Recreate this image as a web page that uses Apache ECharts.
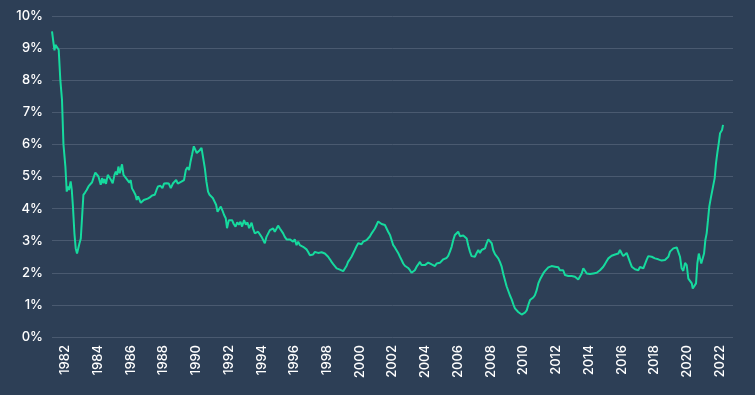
<!DOCTYPE html>
<html>
<head>
<meta charset="utf-8">
<script src="https://cdn.jsdelivr.net/npm/echarts@6/dist/echarts.min.js"></script>
<style>
html,body{margin:0;padding:0;background:#2d3f56;}
#chart{width:755px;height:395px;}
</style>
</head>
<body>
<div id="chart"></div>
<script>
const years = [
1981.18,1981.27,1981.33,1981.39,1981.49,1981.59,1981.69,1981.79,1981.88,1981.94,
1982.00,1982.08,1982.16,1982.22,1982.32,1982.39,1982.46,1982.55,1982.63,1982.71,1982.77,1982.86,1982.94,
1983.02,1983.10,1983.20,1983.30,1983.41,1983.53,1983.63,1983.73,1983.83,1983.93,
1984.02,1984.08,1984.16,1984.24,1984.32,1984.39,1984.48,1984.59,1984.69,1984.79,1984.89,
1985.00,1985.08,1985.16,1985.24,1985.32,1985.40,1985.46,1985.55,1985.65,1985.75,1985.83,1985.91,1985.99,
1986.07,1986.18,1986.28,1986.36,1986.44,1986.53,1986.61,1986.69,1986.79,1986.89,
1987.03,1987.16,1987.30,1987.46,1987.57,1987.66,1987.81,1987.93,
1988.03,1988.18,1988.32,1988.44,1988.58,1988.69,1988.77,1988.87,1988.97,
1989.09,1989.25,1989.36,1989.46,1989.56,1989.65,1989.74,1989.85,1989.93,
1990.03,1990.13,1990.21,1990.32,1990.42,1990.52,1990.62,1990.72,1990.81,1990.90,
1991.01,1991.11,1991.21,1991.30,1991.39,1991.50,1991.60,1991.70,1991.80,1991.88,1991.99,
1992.09,1992.19,1992.29,1992.40,1992.50,1992.60,1992.70,1992.80,1992.92,
1993.03,1993.13,1993.23,1993.38,1993.47,1993.58,1993.68,1993.78,1993.88,1993.99,
1994.09,1994.19,1994.29,1994.39,1994.50,1994.60,1994.70,1994.80,1994.91,
1995.00,1995.11,1995.21,1995.31,1995.41,1995.52,1995.61,1995.72,1995.82,1995.92,
1996.02,1996.13,1996.23,1996.33,1996.43,1996.53,1996.64,1996.74,1996.84,1996.94,
1997.05,1997.14,1997.25,1997.35,1997.45,1997.55,1997.66,1997.76,1997.86,1997.96,
1998.06,1998.17,1998.27,1998.37,1998.47,1998.58,1998.67,1998.78,1998.88,1998.98,
1999.08,1999.19,1999.28,1999.39,1999.49,1999.59,1999.69,1999.80,1999.90,
2000.00,2000.10,2000.20,2000.31,2000.41,2000.51,2000.61,2000.72,2000.81,2000.92,
2001.02,2001.12,2001.22,2001.33,2001.43,2001.53,2001.63,2001.73,2001.84,2001.94,
2002.04,2002.14,2002.25,2002.34,2002.45,2002.55,2002.65,2002.75,2002.86,2002.95,
2003.06,2003.16,2003.26,2003.36,2003.47,2003.57,2003.67,2003.77,2003.87,2003.98,
2004.08,2004.18,2004.28,2004.39,2004.48,2004.59,2004.69,2004.79,2004.89,
2005.00,2005.10,2005.20,2005.30,2005.40,2005.50,2005.61,2005.71,2005.81,2005.91,
2006.01,2006.12,2006.22,2006.32,2006.42,2006.53,2006.62,2006.73,2006.83,2006.93,
2007.03,2007.14,2007.24,2007.34,2007.44,2007.54,2007.65,2007.75,2007.85,2007.95,
2008.06,2008.15,2008.26,2008.36,2008.46,2008.56,2008.67,2008.76,2008.87,2008.97,
2009.07,2009.17,2009.28,2009.38,2009.48,2009.58,2009.68,2009.79,2009.89,2009.99,
2010.09,2010.20,2010.29,2010.40,2010.50,2010.60,2010.70,2010.81,2010.91,
2011.01,2011.11,2011.21,2011.31,2011.42,2011.52,2011.62,2011.72,2011.82,2011.93,
2012.03,2012.13,2012.23,2012.34,2012.43,2012.54,2012.64,2012.74,2012.84,2012.95,
2013.05,2013.15,2013.25,2013.35,2013.46,2013.56,2013.66,2013.76,2013.87,2013.96,
2014.07,2014.17,2014.27,2014.37,2014.48,2014.57,2014.68,2014.78,2014.88,2014.98,
2015.09,2015.19,2015.29,2015.39,2015.49,2015.60,2015.70,2015.80,2015.90,
2016.01,2016.10,2016.21,2016.31,2016.41,2016.51,2016.62,2016.71,2016.82,2016.92,
2017.02,2017.12,2017.23,2017.33,2017.43,2017.53,2017.63,2017.74,2017.84,2017.94,
2018.04,2018.15,2018.24,2018.35,2018.45,2018.55,2018.65,2018.76,2018.86,2018.96,
2019.06,2019.16,2019.26,2019.37,2019.47,2019.57,2019.67,2019.77,2019.88,2019.98,
2020.08,2020.18,2020.29,2020.35,2020.45,2020.55,2020.63,2020.72,2020.79,2020.87,2020.96,
2021.04,2021.12,2021.20,2021.28,2021.36,2021.45,2021.53,2021.61,2021.69,2021.77,2021.85,2021.94,
2022.02,2022.08,2022.14,2022.20
];
const values = [
9.52,9.57,8.93,9.10,9.07,8.95,8.00,7.40,6.00,6.00,
5.30,4.53,4.69,4.58,4.85,4.58,4.06,3.23,2.76,2.60,2.55,2.92,3.07,
3.75,4.43,4.50,4.58,4.69,4.72,4.82,4.98,5.12,5.08,
5.00,5.05,4.74,4.95,4.79,4.92,4.77,5.05,5.00,4.89,4.79,
5.05,5.15,5.05,5.31,5.10,5.26,5.38,5.05,5.02,4.92,4.98,4.81,4.89,
4.63,4.53,4.43,4.27,4.38,4.38,4.18,4.16,4.27,4.30,
4.31,4.35,4.41,4.43,4.58,4.69,4.71,4.64,
4.78,4.79,4.78,4.64,4.79,4.74,4.89,4.78,4.74,
4.84,4.89,5.20,5.29,5.20,5.47,5.68,5.94,5.91,
5.73,5.68,5.82,5.89,5.58,5.27,4.84,4.53,4.43,4.46,
4.33,4.38,4.12,3.90,3.98,4.06,3.94,3.80,3.70,3.39,3.64,
3.59,3.64,3.52,3.44,3.57,3.50,3.59,3.44,3.64,
3.50,3.57,3.39,3.56,3.38,3.23,3.20,3.28,3.23,3.12,
3.12,2.92,3.12,3.18,3.33,3.35,3.38,3.28,3.38,
3.47,3.38,3.33,3.23,3.12,3.04,3.07,3.04,3.05,2.97,
3.04,2.86,2.97,2.86,2.89,2.81,2.78,2.73,2.65,2.55,
2.60,2.57,2.65,2.68,2.62,2.60,2.64,2.62,2.60,2.55,
2.50,2.42,2.34,2.27,2.21,2.14,2.08,2.10,2.08,2.05,
2.09,2.22,2.34,2.42,2.50,2.55,2.71,2.83,2.92,
2.94,2.89,2.97,2.94,3.02,3.07,3.13,3.23,3.28,3.38,
3.49,3.60,3.57,3.52,3.51,3.49,3.46,3.28,3.18,3.02,
2.86,2.79,2.73,2.62,2.50,2.40,2.29,2.22,2.19,2.15,
2.08,2.00,1.98,2.08,2.19,2.26,2.34,2.24,2.27,2.24,
2.29,2.32,2.29,2.26,2.31,2.21,2.29,2.26,2.31,
2.34,2.42,2.45,2.46,2.53,2.65,2.81,3.02,3.18,3.23,
3.28,3.14,3.18,3.16,3.18,3.07,2.86,2.66,2.52,2.47,
2.50,2.62,2.71,2.62,2.71,2.69,2.76,2.92,3.04,3.07,
2.92,2.71,2.58,2.55,2.45,2.34,2.19,1.98,1.77,1.58,
1.44,1.30,1.17,1.02,0.89,0.83,0.78,0.75,0.70,0.66,
0.76,0.83,0.99,1.15,1.20,1.23,1.30,1.46,1.67,
1.79,1.84,1.98,2.05,2.08,2.17,2.22,2.21,2.26,2.19,
2.19,2.17,2.08,2.14,2.08,1.93,1.88,1.90,1.88,1.90,
1.85,1.88,1.85,1.79,1.77,1.98,2.14,2.10,1.98,2.00,
1.96,2.00,1.98,1.98,2.00,2.06,2.08,2.14,2.19,2.27,
2.37,2.45,2.50,2.53,2.57,2.57,2.58,2.60,2.71,
2.60,2.52,2.55,2.62,2.66,2.34,2.19,2.14,2.11,2.10,
2.08,2.18,2.12,2.14,2.14,2.40,2.52,2.56,2.50,2.48,
2.45,2.45,2.42,2.38,2.38,2.40,2.40,2.42,2.50,2.66,
2.68,2.76,2.78,2.79,2.81,2.50,2.14,2.06,2.31,2.24,
1.82,1.77,1.67,1.51,1.49,1.67,2.29,2.60,2.55,2.29,2.31,
2.60,3.02,3.23,3.64,4.06,4.32,4.53,4.74,4.95,5.41,5.73,6.04,
6.35,6.37,6.45,6.61
];
const yearTicks = [1982,1984,1986,1988,1990,1992,1994,1996,1998,2000,2002,2004,2006,2008,2010,2012,2014,2016,2018,2020,2022];
const yTicks = [0,1,2,3,4,5,6,7,8,9,10];

const seriesData = years.map((y, i) => [y, values[i]]);
const chart = echarts.init(document.getElementById('chart'), null, {renderer: 'canvas'});
chart.setOption({
  backgroundColor: '#2d3f56',
  animation: false,
  grid: {left: 52, right: 22, top: 16, bottom: 58, containLabel: false},
  xAxis: {
    type: 'value',
    min: 1981.18,
    max: 2022.81,
    axisLine: {show: false},
    axisTick: {show: false},
    splitLine: {show: false},
    axisLabel: {
      customValues: yearTicks,
      rotate: 90,
      color: '#ffffff',
      fontSize: 13,
      fontWeight: 500,
      fontFamily: 'Inter',
      margin: 8,
      formatter: v => String(Math.round(v))
    }
  },
  yAxis: {
    type: 'value',
    min: yTicks[0],
    max: yTicks[yTicks.length - 1],
    interval: 1,
    axisLine: {show: false},
    axisTick: {show: false},
    splitLine: {lineStyle: {color: '#4a5a70', width: 1}},
    axisLabel: {
      color: '#ffffff',
      fontSize: 13,
      fontWeight: 500,
      fontFamily: 'Inter',
      margin: 9,
      formatter: v => v + '%'
    }
  },
  series: [{
    type: 'line',
    data: seriesData,
    showSymbol: false,
    symbol: 'none',
    lineStyle: {color: '#16da9e', width: 2},
    z: 3
  }]
});
</script>
</body>
</html>
